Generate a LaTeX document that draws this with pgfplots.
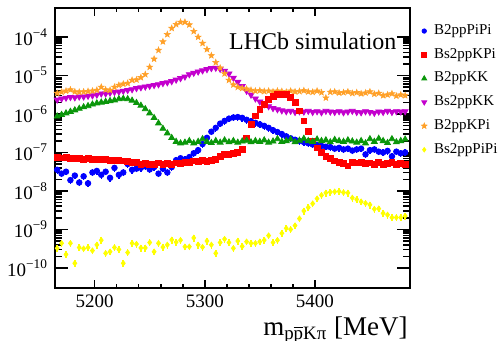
\documentclass[border=0pt]{standalone}
\usepackage{pgfplots}
\pgfplotsset{compat=1.18}
\usepackage{pgfplotstable}
\usepackage{fontspec}
\setmainfont{Liberation Serif}
\definecolor{cblue}{RGB}{0,0,255}
\definecolor{cred}{RGB}{255,0,0}
\definecolor{cgreen}{RGB}{10,150,10}
\definecolor{cpurple}{RGB}{195,0,205}
\definecolor{corange}{RGB}{255,160,40}
\definecolor{cyellow}{RGB}{255,255,0}
\pgfdeclareplotmark{fstar}{%
  \pgfpathmoveto{\pgfpointpolar{90}{\pgfplotmarksize}}%
  \pgfpathlineto{\pgfpointpolar{126}{0.42\pgfplotmarksize}}%
  \pgfpathlineto{\pgfpointpolar{162}{\pgfplotmarksize}}%
  \pgfpathlineto{\pgfpointpolar{198}{0.42\pgfplotmarksize}}%
  \pgfpathlineto{\pgfpointpolar{234}{\pgfplotmarksize}}%
  \pgfpathlineto{\pgfpointpolar{270}{0.42\pgfplotmarksize}}%
  \pgfpathlineto{\pgfpointpolar{306}{\pgfplotmarksize}}%
  \pgfpathlineto{\pgfpointpolar{342}{0.42\pgfplotmarksize}}%
  \pgfpathlineto{\pgfpointpolar{18}{\pgfplotmarksize}}%
  \pgfpathlineto{\pgfpointpolar{54}{0.42\pgfplotmarksize}}%
  \pgfpathclose
  \pgfusepathqfillstroke}
\pgfplotstableread{
x blue red green purple orange yellow
5166 3.55e-8 7.59e-8 8.71e-7 2.34e-6 3.47e-6 3.24e-10
5170 2.82e-8 7.24e-8 9.55e-7 2.51e-6 3.72e-6 4.37e-10
5174 3.16e-8 7.41e-8 1.05e-6 2.63e-6 3.98e-6 2.24e-10
5178 1.91e-8 7.08e-8 1.15e-6 2.75e-6 4.27e-6 4.37e-10
5182 2.51e-8 6.92e-8 1.26e-6 2.69e-6 3.80e-6 1.32e-10
5186 1.66e-8 7.08e-8 1.38e-6 2.82e-6 3.72e-6 3.39e-10
5190 2.40e-8 6.76e-8 1.51e-6 2.82e-6 3.80e-6 3.16e-10
5194 1.58e-8 6.92e-8 1.62e-6 2.95e-6 3.89e-6 3.39e-10
5198 3.02e-8 6.61e-8 1.78e-6 3.02e-6 3.98e-6 2.82e-10
5202 3.31e-8 6.76e-8 1.91e-6 3.16e-6 4.17e-6 3.98e-10
5206 2.63e-8 6.46e-8 2.00e-6 3.39e-6 5.01e-6 5.25e-10
5210 3.16e-8 6.61e-8 2.09e-6 3.39e-6 4.27e-6 2.40e-10
5214 2.19e-8 6.31e-8 2.19e-6 3.55e-6 4.17e-6 2.63e-10
5218 3.98e-8 6.17e-8 2.29e-6 3.72e-6 5.01e-6 3.39e-10
5222 2.63e-8 6.31e-8 2.45e-6 3.80e-6 5.62e-6 3.02e-10
5226 3.02e-8 6.03e-8 2.51e-6 3.98e-6 6.03e-6 1.32e-10
5230 5.01e-8 5.89e-8 2.45e-6 4.17e-6 6.31e-6 2.51e-10
5234 3.55e-8 5.62e-8 2.24e-6 4.37e-6 7.59e-6 4.37e-10
5238 3.80e-8 5.50e-8 1.95e-6 4.68e-6 7.76e-6 4.17e-10
5242 3.98e-8 5.01e-8 1.66e-6 4.90e-6 8.91e-6 3.31e-10
5246 4.37e-8 5.25e-8 1.35e-6 5.13e-6 1.07e-5 3.31e-10
5250 3.63e-8 4.79e-8 1.05e-6 5.37e-6 1.66e-5 4.57e-10
5254 4.17e-8 5.01e-8 7.94e-7 5.62e-6 2.69e-5 2.63e-10
5258 2.82e-8 5.37e-8 5.75e-7 5.89e-6 4.57e-5 4.37e-10
5262 3.80e-8 4.90e-8 4.17e-7 6.31e-6 7.59e-5 3.47e-10
5266 3.02e-8 5.13e-8 3.16e-7 6.61e-6 1.17e-4 3.98e-10
5270 4.17e-8 5.01e-8 2.40e-7 7.08e-6 1.70e-4 5.37e-10
5274 6.31e-8 5.37e-8 1.91e-7 7.76e-6 2.14e-4 4.68e-10
5278 7.08e-8 5.25e-8 1.74e-7 8.51e-6 2.45e-4 5.25e-10
5282 6.61e-8 5.62e-8 1.82e-7 9.33e-6 2.45e-4 3.55e-10
5286 7.59e-8 5.50e-8 2.00e-7 1.07e-5 2.09e-4 3.55e-10
5290 9.55e-8 6.03e-8 1.74e-7 1.17e-5 1.41e-4 6.03e-10
5294 1.15e-7 5.75e-8 1.91e-7 1.26e-5 1.00e-4 3.98e-10
5298 1.66e-7 6.17e-8 2.24e-7 1.35e-5 6.92e-5 3.47e-10
5302 2.40e-7 5.89e-8 1.91e-7 1.45e-5 4.79e-5 5.01e-10
5306 3.47e-7 6.31e-8 1.78e-7 1.55e-5 3.31e-5 3.98e-10
5310 4.37e-7 6.61e-8 2.00e-7 1.58e-5 2.19e-5 2.40e-10
5314 5.62e-7 7.94e-8 1.82e-7 1.48e-5 1.58e-5 4.57e-10
5318 6.61e-7 8.91e-8 2.09e-7 1.32e-5 1.12e-5 5.62e-10
5322 7.59e-7 9.12e-8 1.86e-7 1.12e-5 7.59e-6 4.57e-10
5326 8.13e-7 9.55e-8 2.00e-7 8.71e-6 5.75e-6 3.24e-10
5330 8.32e-7 1.00e-7 1.82e-7 6.76e-6 5.01e-6 5.01e-10
5334 7.94e-7 1.20e-7 1.95e-7 5.25e-6 4.68e-6 3.63e-10
5338 7.08e-7 2.40e-7 2.04e-7 3.98e-6 4.47e-6 4.79e-10
5342 6.46e-7 5.25e-7 1.86e-7 3.16e-6 4.17e-6 4.37e-10
5346 5.89e-7 8.91e-7 2.00e-7 2.51e-6 3.98e-6 4.37e-10
5350 5.37e-7 1.32e-6 1.91e-7 2.09e-6 4.07e-6 4.79e-10
5354 4.90e-7 1.82e-6 2.09e-7 1.78e-6 3.89e-6 5.25e-10
5358 4.37e-7 2.40e-6 1.82e-7 1.58e-6 3.98e-6 6.92e-10
5362 3.80e-7 2.82e-6 1.95e-7 1.41e-6 3.80e-6 4.57e-10
5366 3.39e-7 3.16e-6 2.24e-7 1.32e-6 3.98e-6 5.25e-10
5370 3.02e-7 3.31e-6 1.91e-7 1.23e-6 3.89e-6 7.94e-10
5374 2.63e-7 3.16e-6 2.00e-7 1.17e-6 3.72e-6 1.07e-9
5378 2.34e-7 2.75e-6 2.19e-7 1.20e-6 3.98e-6 1.00e-9
5382 2.14e-7 2.00e-6 1.86e-7 1.12e-6 3.80e-6 1.26e-9
5386 2.00e-7 1.20e-6 2.04e-7 1.17e-6 3.89e-6 1.91e-9
5390 1.86e-7 6.61e-7 2.29e-7 1.15e-6 4.07e-6 3.02e-9
5394 1.74e-7 3.55e-7 2.00e-7 1.20e-6 3.80e-6 3.72e-9
5398 1.62e-7 2.00e-7 1.91e-7 1.12e-6 3.72e-6 4.68e-9
5402 1.55e-7 1.32e-7 2.19e-7 1.17e-6 3.98e-6 6.31e-9
5406 1.48e-7 1.00e-7 2.00e-7 1.10e-6 3.63e-6 7.76e-9
5410 1.41e-7 7.94e-8 2.09e-7 1.20e-6 2.63e-6 8.91e-9
5414 1.38e-7 6.92e-8 1.86e-7 1.15e-6 3.72e-6 9.33e-9
5418 1.26e-7 6.03e-8 2.14e-7 1.12e-6 3.80e-6 9.55e-9
5422 1.32e-7 5.50e-8 2.00e-7 1.17e-6 3.55e-6 9.77e-9
5426 1.20e-7 5.25e-8 1.91e-7 1.10e-6 3.63e-6 9.12e-9
5430 1.26e-7 4.47e-8 2.09e-7 1.15e-6 3.80e-6 8.91e-9
5434 1.12e-7 5.62e-8 1.95e-7 1.20e-6 3.47e-6 6.61e-9
5438 1.20e-7 5.37e-8 1.82e-7 1.12e-6 3.63e-6 6.03e-9
5442 1.26e-7 5.50e-8 2.00e-7 1.10e-6 3.39e-6 5.25e-9
5446 8.91e-8 5.25e-8 1.74e-7 1.17e-6 3.55e-6 4.79e-9
5450 1.15e-7 5.37e-8 2.24e-7 1.12e-6 3.80e-6 4.37e-9
5454 1.20e-7 5.01e-8 1.91e-7 1.07e-6 3.31e-6 3.39e-9
5458 1.05e-7 5.50e-8 2.29e-7 1.15e-6 3.47e-6 3.47e-9
5462 1.00e-7 4.79e-8 2.00e-7 1.12e-6 3.02e-6 2.63e-9
5466 1.10e-7 5.25e-8 1.78e-7 1.20e-6 3.16e-6 2.40e-9
5470 7.94e-8 5.62e-8 2.24e-7 1.12e-6 3.39e-6 2.04e-9
5474 1.05e-7 5.01e-8 1.86e-7 1.17e-6 2.95e-6 2.04e-9
5478 9.55e-8 5.13e-8 2.00e-7 1.15e-6 3.16e-6 2.04e-9
5482 1.00e-7 4.90e-8 2.19e-7 1.17e-6 3.02e-6 2.24e-9
}\datatable
\begin{document}
\begin{tikzpicture}
\path[use as bounding box] (-27.5pt,-26.5pt) rectangle (223pt,144pt);
\begin{axis}[
  at={(0,0)}, anchor=south west,
  scale only axis, width=177.5pt, height=140pt,
  ymode=log,
  xmin=5164, xmax=5486.4, ymin=3e-11, ymax=5.7e-4,
  xtick={5200,5300,5400}, minor x tick num=4,
  ytick={1e-10,1e-9,1e-8,1e-7,1e-6,1e-5,1e-4},
  yticklabels={10\textsuperscript{−10},10\textsuperscript{−9},10\textsuperscript{−8},10\textsuperscript{−7},10\textsuperscript{−6},10\textsuperscript{−5},10\textsuperscript{−4}},
  tick align=inside, tick pos=both,
  major tick length=4.2pt, minor tick length=2.2pt,
  ytick style={/pgfplots/major tick length=6.5pt, /pgfplots/minor tick length=3.4pt},
  axis line style={line width=1pt},
  every tick/.style={black, line width=0.8pt},
  /pgf/number format/assume math mode=true,
  xticklabel style={font=\fontsize{9.5}{10}\selectfont, /pgf/number format/1000 sep={}},
  yticklabel style={font=\fontsize{9.5}{10}\selectfont},
  xlabel={m\textsubscript{p$\overline{\mbox{p}}$Kπ} [MeV]},
  x label style={at={(axis description cs:1,0)}, anchor=base east, inner sep=0pt, yshift=-23.5pt, xshift=-1pt, font=\fontsize{13.5}{14}\selectfont},
  legend style={at={(axis description cs:1,1)}, anchor=north west, xshift=-1.4pt, yshift=-4.5pt,
    draw=none, fill=none, font=\fontsize{7.5}{8}\selectfont, row sep=2.2pt,
    nodes={inner sep=1.6pt}},
  legend cell align=left,
  legend image code/.code={\path (0cm,0cm) (0.29cm,0cm); \draw[#1] plot coordinates {(0.18cm,0cm)};},
]
\addplot[forget plot, only marks, mark=*, mark size=1.4pt, color=cblue, fill=cblue,
  error bars/.cd, y dir=both, y fixed relative=0.2, error mark=none, error bar style={line width=0.7pt, cblue}]
  table[x=x, y=blue] {\datatable};
\addplot[forget plot, only marks, mark=triangle*, mark size=1.7pt, mark options={rotate=180}, color=cpurple, fill=cpurple]
  table[x=x, y=purple] {\datatable};
\addplot[forget plot, only marks, mark=fstar, mark size=1.55pt, color=corange, fill=corange, line width=0.3pt]
  table[x=x, y=orange] {\datatable};
\addplot[forget plot, only marks, mark=square*, mark size=1.45pt, color=cred, fill=cred]
  table[x=x, y=red] {\datatable};
\addplot[forget plot, only marks, mark=triangle*, mark size=1.7pt, color=cgreen, fill=cgreen]
  table[x=x, y=green] {\datatable};
\addplot[forget plot, only marks, mark=diamond*, mark size=1.3pt, color=cyellow, fill=cyellow,
  error bars/.cd, y dir=both, y fixed relative=0.2, error mark=none, error bar style={line width=0.8pt, cyellow}]
  table[x=x, y=yellow] {\datatable};
\addlegendimage{only marks, mark=*, mark size=1.1pt, color=cblue, fill=cblue}
\addlegendentry{B2ppPiPi}
\addlegendimage{only marks, mark=square*, mark size=1.2pt, color=cred, fill=cred}
\addlegendentry{Bs2ppKPi}
\addlegendimage{only marks, mark=triangle*, mark size=1.4pt, color=cgreen, fill=cgreen}
\addlegendentry{B2ppKK}
\addlegendimage{only marks, mark=triangle*, mark size=1.4pt, mark options={rotate=180}, color=cpurple, fill=cpurple}
\addlegendentry{Bs2ppKK}
\addlegendimage{only marks, mark=fstar, mark size=1.5pt, color=corange, fill=corange, line width=0.3pt}
\addlegendentry{B2ppKPi}
\addlegendimage{only marks, mark=diamond*, mark size=1.1pt, color=cyellow, fill=cyellow}
\addlegendentry{Bs2ppPiPi}
\node[anchor=base east, inner sep=0pt, font=\fontsize{12}{13}\selectfont] at (axis description cs:0.963,0.85) {LHCb simulation};
\end{axis}
\end{tikzpicture}
\end{document}
